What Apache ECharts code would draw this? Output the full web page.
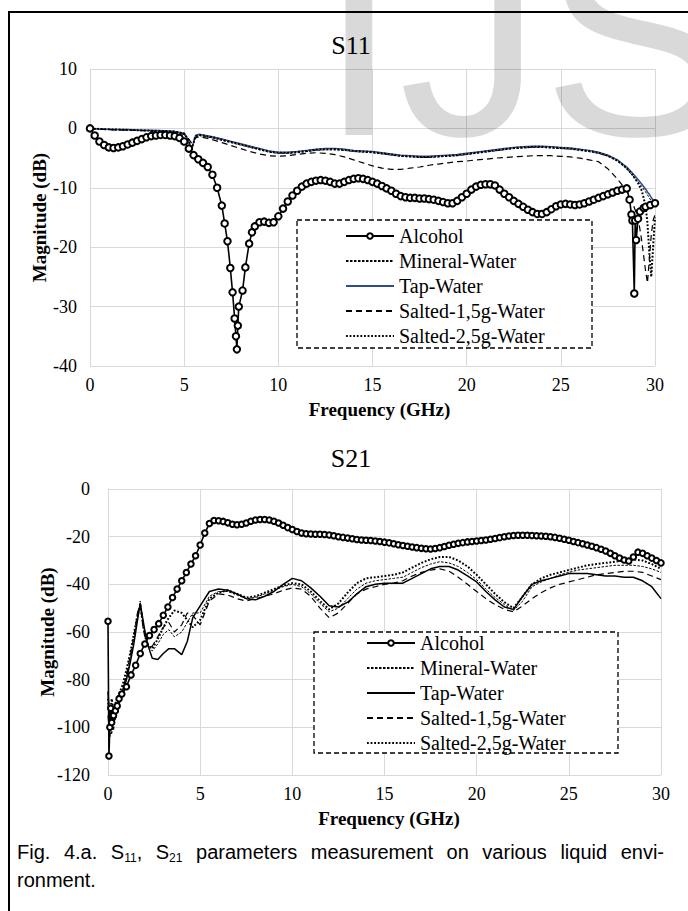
<!DOCTYPE html>
<html><head><meta charset="utf-8">
<script src="https://cdn.jsdelivr.net/npm/echarts@6/dist/echarts.min.js"></script>
<style>
html,body{margin:0;padding:0;background:#fff;width:688px;height:911px;overflow:hidden;}
#frame{position:absolute;left:8px;top:11px;width:690px;height:910px;border-left:2px solid #000;border-top:2px solid #000;}
#c1{position:absolute;left:0;top:0;width:688px;height:430px;}
#c2{position:absolute;left:0;top:430px;width:688px;height:481px;}
#wm{position:absolute;left:319px;top:-108px;font-family:'Liberation Sans',Arial,sans-serif;font-size:287px;line-height:287px;color:rgba(0,0,0,0.15);white-space:nowrap;pointer-events:none;z-index:5;}
#cap{position:absolute;left:17px;top:838px;width:647px;font-family:'Liberation Sans',Arial,sans-serif;font-size:20px;line-height:28px;color:#000;}
#cap .l1{text-align:justify;text-align-last:justify;white-space:nowrap;}
#cap sub{font-size:12px;vertical-align:-3px;line-height:0;}
</style></head>
<body>
<div id="frame"></div>
<div id="c1"></div>
<div id="c2"></div>
<div id="wm">IJS</div>
<div id="cap"><div class="l1">Fig. 4.a. S<sub>11</sub>, S<sub>21</sub> parameters measurement on various liquid envi-</div><div>ronment.</div></div>
<script>
// ---------- names ----------
const seriesNames = ['Alcohol', 'Mineral-Water', 'Tap-Water', 'Salted-1,5g-Water', 'Salted-2,5g-Water'];
const chartTitles = ['S11', 'S21'];
const xAxisName = 'Frequency (GHz)';
const yAxisName = 'Magnitude (dB)';

// ---------- S11 ----------
const s11AlcoholFreq = [
  0,0.25,0.5,0.75,1,1.25,1.5,1.75,2,2.25,
  2.5,2.75,3,3.25,3.5,3.75,4,4.25,4.5,4.75,
  5,5.25,5.5,5.75,6,6.25,6.5,6.75,7,7.15,
  7.3,7.45,7.57,7.68,7.75,7.8,7.85,7.9,8.1,8.25,
  8.45,8.6,8.75,9,9.25,9.5,9.75,10,10.25,10.5,
  10.75,11,11.25,11.5,11.75,12,12.25,12.5,12.75,13,
  13.25,13.5,13.75,14,14.25,14.5,14.75,15,15.25,15.5,
  15.75,16,16.25,16.5,16.75,17,17.25,17.5,17.75,18,
  18.25,18.5,18.75,19,19.25,19.5,19.75,20,20.25,20.5,
  20.75,21,21.25,21.5,21.75,22,22.25,22.5,22.75,23,
  23.25,23.5,23.75,24,24.25,24.5,24.75,25,25.25,25.5,
  25.75,26,26.25,26.5,26.75,27,27.25,27.5,27.75,28,
  28.25,28.5,28.65,28.75,28.8,28.9,28.95,29,29.1,29.2,
  29.4,29.5,29.75,30];
const s11Alcohol = [
  0,-1.2,-2.2,-2.8,-3.2,-3.3,-3.2,-3.0,-2.7,-2.4,
  -2.1,-1.8,-1.5,-1.3,-1.2,-1.1,-1.1,-1.2,-1.3,-1.6,
  -2.2,-3.4,-4.5,-5.2,-5.8,-6.5,-7.8,-10,-13,-16,
  -19,-23.5,-27.6,-32,-35,-37.2,-33.2,-30,-27.3,-23.4,
  -19.4,-17.5,-16.5,-15.8,-15.7,-15.9,-15.8,-14.8,-13.5,-12.3,
  -11.3,-10.5,-9.8,-9.3,-9.0,-8.8,-8.7,-8.8,-9.0,-9.3,
  -9.3,-9.0,-8.7,-8.5,-8.4,-8.5,-8.7,-9.0,-9.3,-9.7,
  -10.1,-10.5,-11.0,-11.4,-11.6,-11.7,-11.7,-11.8,-11.8,-11.9,
  -12.0,-12.2,-12.4,-12.6,-12.6,-12.2,-11.6,-11.0,-10.3,-9.8,
  -9.5,-9.4,-9.4,-9.6,-10.3,-11.0,-11.6,-12.2,-12.7,-13.2,
  -13.7,-14.1,-14.4,-14.4,-14.1,-13.6,-13.1,-12.8,-12.7,-12.8,
  -12.9,-12.8,-12.6,-12.3,-12.0,-11.7,-11.4,-11.1,-10.8,-10.5,
  -10.3,-10.1,-12.0,-14.5,-15.5,-27.8,-15.5,-18.8,-15.2,-14.0,
  -13.4,-13.2,-12.9,-12.6];

const s11WaterFreq = [
  0,0.5,1,1.5,2,2.5,3,3.5,4,4.5,
  5,5.2,5.4,5.6,5.8,6,6.5,7,7.5,8,
  8.5,9,9.5,10,10.5,11,11.5,12,12.5,13,
  13.5,14,14.5,15,15.5,16,16.5,17,17.5,18,
  18.5,19,19.5,20,20.5,21,21.5,22,22.5,23,
  23.5,24,24.5,25,25.5,26,26.5,27,27.5,28,
  28.5,28.8,29.1,29.3,29.5,29.6,29.7,29.8,29.9,30];
const s11Mineral = [
  0,-0.15,-0.2,-0.25,-0.3,-0.35,-0.4,-0.45,-0.5,-0.6,
  -0.9,-1.9,-3.4,-1.4,-1.2,-1.3,-1.6,-2.0,-2.4,-2.8,
  -3.2,-3.6,-4.0,-4.2,-4.2,-4.1,-3.9,-3.7,-3.6,-3.6,
  -3.7,-3.9,-4.0,-4.1,-4.3,-4.5,-4.7,-4.8,-4.9,-4.9,
  -4.8,-4.7,-4.6,-4.4,-4.2,-4.0,-3.8,-3.6,-3.4,-3.3,
  -3.2,-3.2,-3.3,-3.4,-3.5,-3.7,-3.9,-4.2,-4.7,-5.5,
  -6.8,-7.9,-9.0,-9.8,-10.7,-11.2,-11.7,-12.2,-12.7,-13.2];
const s11Tap = [
  0,-0.1,-0.15,-0.2,-0.2,-0.25,-0.3,-0.35,-0.4,-0.5,
  -0.8,-1.8,-3.6,-1.2,-1.0,-1.1,-1.4,-1.8,-2.2,-2.6,
  -3.0,-3.4,-3.8,-4.0,-4.0,-3.9,-3.7,-3.5,-3.4,-3.4,
  -3.5,-3.7,-3.8,-3.9,-4.1,-4.3,-4.5,-4.6,-4.7,-4.7,
  -4.6,-4.5,-4.4,-4.2,-4.0,-3.8,-3.6,-3.4,-3.2,-3.1,
  -3.0,-3.0,-3.1,-3.2,-3.3,-3.5,-3.7,-4.0,-4.5,-5.3,
  -6.5,-7.5,-8.6,-9.4,-10.2,-10.7,-11.1,-11.6,-12.1,-12.6];
const s11Salted15 = [
  0,-0.1,-0.2,-0.25,-0.3,-0.35,-0.4,-0.5,-0.6,-0.7,
  -1.0,-1.6,-2.5,-1.6,-1.4,-1.5,-1.9,-2.4,-2.9,-3.4,
  -3.9,-4.3,-4.6,-4.7,-4.6,-4.4,-4.2,-4.1,-4.2,-4.4,
  -4.8,-5.3,-5.8,-6.3,-6.7,-6.9,-6.9,-6.7,-6.5,-6.2,
  -6.0,-5.8,-5.6,-5.5,-5.3,-5.2,-5.0,-4.9,-4.8,-4.7,
  -4.6,-4.6,-4.6,-4.7,-4.8,-5.0,-5.3,-5.6,-6.8,-8.5,
  -10.5,-12.5,-15,-19,-24,-26,-22,-18,-15.5,-14.5];
const s11Salted25 = [
  0,-0.1,-0.15,-0.2,-0.25,-0.3,-0.35,-0.4,-0.45,-0.55,
  -0.85,-1.8,-3.5,-1.3,-1.1,-1.2,-1.5,-1.9,-2.3,-2.7,
  -3.1,-3.5,-3.9,-4.1,-4.1,-4.0,-3.8,-3.6,-3.5,-3.5,
  -3.6,-3.8,-3.9,-4.0,-4.2,-4.4,-4.6,-4.7,-4.8,-4.8,
  -4.7,-4.6,-4.5,-4.3,-4.1,-3.9,-3.7,-3.5,-3.3,-3.2,
  -3.1,-3.1,-3.2,-3.3,-3.4,-3.6,-3.8,-4.1,-4.6,-5.4,
  -6.7,-7.8,-9.2,-10.5,-13,-16,-21,-25,-20,-15];

// ---------- S21 ----------
const s21AlcoholFreq = [
  0,0.05,0.1,0.15,0.2,0.3,0.4,0.5,0.6,0.75,
  1,1.25,1.5,1.75,2,2.25,2.5,2.75,3,3.25,
  3.5,3.75,4,4.25,4.5,4.75,5,5.25,5.5,5.75,
  6,6.25,6.5,6.75,7,7.25,7.5,7.75,8,8.25,
  8.5,8.75,9,9.25,9.5,9.75,10,10.25,10.5,10.75,
  11,11.25,11.5,11.75,12,12.25,12.5,12.75,13,13.25,
  13.5,13.75,14,14.25,14.5,14.75,15,15.25,15.5,15.75,
  16,16.25,16.5,16.75,17,17.25,17.5,17.75,18,18.25,
  18.5,18.75,19,19.25,19.5,19.75,20,20.25,20.5,20.75,
  21,21.25,21.5,21.75,22,22.25,22.5,22.75,23,23.25,
  23.5,23.75,24,24.25,24.5,24.75,25,25.25,25.5,25.75,
  26,26.25,26.5,26.75,27,27.25,27.5,27.75,28,28.25,
  28.5,28.75,29,29.25,29.5,29.75,30];
const s21Alcohol = [
  -55.5,-112,-100,-92,-98,-95,-93,-91,-88,-86,
  -83,-78,-74,-69,-65,-61.5,-59,-56.5,-53,-49.5,
  -45.5,-42,-38.5,-35,-31.5,-28,-23.5,-18.5,-14.5,-13.2,
  -13.3,-13.6,-14.2,-14.8,-15,-14.8,-14.3,-13.5,-13,-12.8,
  -12.8,-13,-13.5,-14.3,-15.2,-16.2,-17,-17.8,-18.5,-18.8,
  -18.9,-19,-19,-19.1,-19.3,-19.6,-20,-20.3,-20.6,-20.9,
  -21.2,-21.4,-21.5,-21.6,-21.8,-22,-22.3,-22.6,-23,-23.4,
  -23.7,-24,-24.3,-24.6,-24.9,-25.1,-25.2,-25,-24.6,-24.1,
  -23.6,-23.2,-22.8,-22.5,-22.2,-22,-21.8,-21.6,-21.4,-21.1,
  -20.8,-20.4,-20,-19.7,-19.5,-19.4,-19.4,-19.4,-19.5,-19.6,
  -19.7,-19.8,-20,-20.3,-20.7,-21.1,-21.5,-22,-22.5,-23,
  -23.5,-24,-24.6,-25.3,-26,-27,-28,-29,-29.8,-30.2,
  -28.5,-26.5,-27,-28,-29,-30,-31];

const s21WaterFreq = [
  0,0.1,0.2,0.3,0.4,0.5,0.6,0.8,1.0,1.2,
  1.4,1.6,1.75,1.9,2.1,2.4,2.7,3.0,3.3,3.6,
  4.0,4.3,4.6,5.0,5.5,6,6.5,7,7.5,8,
  8.5,9,9.5,10,10.5,11,11.5,12,12.5,13,
  13.5,14,14.5,15,15.5,16,16.5,17,17.5,18,
  18.5,19,19.5,20,20.5,21,21.5,22,22.5,23,
  23.5,24,24.5,25,25.5,26,26.5,27,27.5,28,
  28.5,29,29.5,30];
const s21Mineral = [
  -90,-98,-103,-95,-97,-93,-90,-85,-79,-72,
  -64,-54,-47,-56,-64,-68,-65,-61,-59,-62,
  -60,-56,-52,-52,-45,-43,-43,-44.5,-46,-45.5,
  -44,-42.5,-41,-40,-41,-44,-48,-51.5,-50,-46,
  -42,-39.5,-38.5,-38,-37.5,-37,-35,-33,-31.5,-30.5,
  -31,-32.5,-35,-38,-42,-45.5,-48.5,-51,-47,-41,
  -39,-37.5,-36,-35,-34,-33.5,-33,-32.5,-32,-32,
  -32,-32.5,-33.5,-35];
const s21Tap = [
  -85,-100,-92,-97,-95,-92,-90,-86,-80,-73,
  -65,-55,-48,-55,-64,-71,-71.5,-69,-67,-67,
  -69.5,-64,-54,-49,-43,-42,-42.5,-44,-46,-46.5,
  -45,-43,-40,-37.5,-38.5,-41.5,-45,-49,-49.5,-47.5,
  -44,-41,-40,-39.5,-39.5,-39.5,-37.5,-35.5,-33.5,-32.5,
  -32.5,-34,-36.5,-39,-43,-46.5,-49.5,-50.5,-45,-40,
  -38.5,-37.5,-36.5,-35.5,-35.5,-35.5,-36,-36.5,-36.5,-37,
  -37,-38.5,-41,-46];
const s21Salted15 = [
  -95,-104,-96,-101,-94,-92,-89,-84,-78,-70,
  -62,-52,-48,-58,-66,-66,-62,-58,-56,-60,
  -57,-52,-53,-57,-47,-44,-44.5,-46,-47,-46,
  -45,-44,-42.5,-41.5,-42,-45,-50,-54,-52,-48,
  -44,-42,-41,-40,-39.5,-38.5,-36.5,-35,-34,-33.5,
  -34.5,-37,-40,-43,-46,-48.5,-50.5,-51.5,-49,-46,
  -43.5,-41.5,-40,-39,-38,-37,-36,-35.5,-35,-34.5,
  -34.5,-35,-36.5,-38];
const s21Salted25 = [
  -88,-96,-88,-93,-90,-88,-86,-82,-76,-69,
  -61,-53,-49,-57,-65,-67,-63,-58,-54,-51,
  -52,-55,-58,-55,-46,-43.5,-42.5,-44,-45.5,-45,
  -43.5,-42,-40.5,-39.5,-40,-43,-47,-50.5,-48,-43.5,
  -39.5,-37.5,-37,-36.5,-36,-35,-33,-31,-29.5,-28.5,
  -28.5,-30,-32.5,-36,-40,-44,-47.5,-50,-45,-40,
  -37.5,-36,-35,-34,-33,-32,-31.5,-31,-30.5,-30,
  -29.5,-30,-31.5,-33.5];

// ---------- axis ranges ----------
const xRange = {min: 0, max: 30, interval: 5};
const s11YRange = {min: -40, max: 10, interval: 10};
const s21YRange = {min: -120, max: 0, interval: 20};

// ---------- helpers ----------
const SERIF = 'Liberation Serif';
const GRID_C = '#d9d9d9';
function pairs(xs, ys) { return xs.map((x, i) => [x, ys[i]]); }

function makeAxes(yr, yNameGap, yLabelMargin, xNameShift) {
  const common = {
    type: 'value',
    axisTick: {show: false},
    axisLine: {show: true, lineStyle: {color: GRID_C, width: 1}},
    splitLine: {show: true, lineStyle: {color: GRID_C, width: 1}},
    nameLocation: 'middle',
    nameMoveOverlap: false
  };
  return {
    xAxis: Object.assign({}, common, {
      min: xRange.min, max: xRange.max, interval: xRange.interval,
      name: xAxisName, nameGap: 34,
      nameTextStyle: {fontFamily: SERIF, fontSize: 19, fontWeight: 'bold', color: '#000', padding: [0, 0, 0, xNameShift]},
      axisLabel: {fontFamily: SERIF, fontSize: 18, color: '#000', margin: 10}
    }),
    yAxis: Object.assign({}, common, {
      min: yr.min, max: yr.max, interval: yr.interval,
      name: yAxisName, nameGap: yNameGap, nameRotate: 90,
      nameTextStyle: {fontFamily: SERIF, fontSize: 19, fontWeight: 'bold', color: '#000'},
      axisLabel: {fontFamily: SERIF, fontSize: 18, color: '#000', margin: yLabelMargin}
    })
  };
}

function makeSeries(alcF, alc, wF, mineral, tap, s15, s25, tapColor, symSize, symBorder) {
  const base = {type: 'line', smooth: false, animation: false, silent: true};
  return [
    Object.assign({}, base, {
      name: seriesNames[0], data: pairs(alcF, alc),
      symbol: 'emptyCircle', symbolSize: symSize, showSymbol: true, showAllSymbol: true,
      lineStyle: {color: '#000', width: 1.6},
      itemStyle: {color: '#000', borderColor: '#000', borderWidth: symBorder}, z: 3
    }),
    Object.assign({}, base, {
      name: seriesNames[1], data: pairs(wF, mineral), symbol: 'none',
      lineStyle: {color: '#000', width: 1, type: [2.5, 1.5]}, itemStyle: {color: '#000'}
    }),
    Object.assign({}, base, {
      name: seriesNames[2], data: pairs(wF, tap), symbol: 'none',
      lineStyle: {color: tapColor, width: 1.5, type: 'solid'}, itemStyle: {color: tapColor}
    }),
    Object.assign({}, base, {
      name: seriesNames[3], data: pairs(wF, s15), symbol: 'none',
      lineStyle: {color: '#000', width: 1.2, type: [6, 4]}, itemStyle: {color: '#000'}
    }),
    Object.assign({}, base, {
      name: seriesNames[4], data: pairs(wF, s25), symbol: 'none',
      lineStyle: {color: '#000', width: 2, type: [1.8, 1.8]}, itemStyle: {color: '#000'}
    })
  ];
}

function makeLegend(left, top) {
  return {
    orient: 'vertical', left: left, top: top, padding: 0, z: 10,
    itemWidth: 48, itemHeight: 7, itemGap: 5, selectedMode: false,
    textStyle: {fontFamily: SERIF, fontSize: 20, color: '#000', lineHeight: 20},
    data: seriesNames.map((n, i) => i === 0
      ? {name: n}
      : {name: n, itemStyle: {opacity: 0}})
  };
}

// ---------- chart 1: S11 ----------
const c1 = echarts.init(document.getElementById('c1'), null, {renderer: 'svg'});
const ax1 = makeAxes(s11YRange, 41, 13, 14);
c1.setOption({
  animation: false,
  grid: {left: 90, right: 33, top: 69, bottom: 64, containLabel: false},
  xAxis: ax1.xAxis, yAxis: ax1.yAxis,
  legend: makeLegend(345, 226),
  graphic: [
    {type: 'rect', z: 5, silent: true,
     shape: {x: 297, y: 220, width: 295, height: 128},
     style: {fill: '#fff', stroke: '#000', lineWidth: 1.3, lineDash: [5, 3]}},
    {type: 'text', z: 6, silent: true, x: 351, y: 45,
     style: {text: chartTitles[0], fontSize: 26, fontFamily: SERIF, fill: '#000', align: 'center', verticalAlign: 'middle'}}
  ],
  series: makeSeries(s11AlcoholFreq, s11Alcohol, s11WaterFreq, s11Mineral, s11Tap, s11Salted15, s11Salted25, '#2f4d8e', 6.5, 2.5)
});

// ---------- chart 2: S21 ----------
const c2 = echarts.init(document.getElementById('c2'), null, {renderer: 'svg'});
const ax2 = makeAxes(s21YRange, 51, 18, 9);
c2.setOption({
  animation: false,
  grid: {left: 108, right: 27, top: 59, bottom: 136, containLabel: false},
  xAxis: ax2.xAxis, yAxis: ax2.yAxis,
  legend: makeLegend(366, 203),
  graphic: [
    {type: 'rect', z: 5, silent: true,
     shape: {x: 314, y: 202, width: 304, height: 121},
     style: {fill: '#fff', stroke: '#000', lineWidth: 1.3, lineDash: [5, 3]}},
    {type: 'text', z: 6, silent: true, x: 351, y: 28,
     style: {text: chartTitles[1], fontSize: 26, fontFamily: SERIF, fill: '#000', align: 'center', verticalAlign: 'middle'}}
  ],
  series: makeSeries(s21AlcoholFreq, s21Alcohol, s21WaterFreq, s21Mineral, s21Tap, s21Salted15, s21Salted25, '#000', 5.5, 1.6)
});
</script>
</body></html>
